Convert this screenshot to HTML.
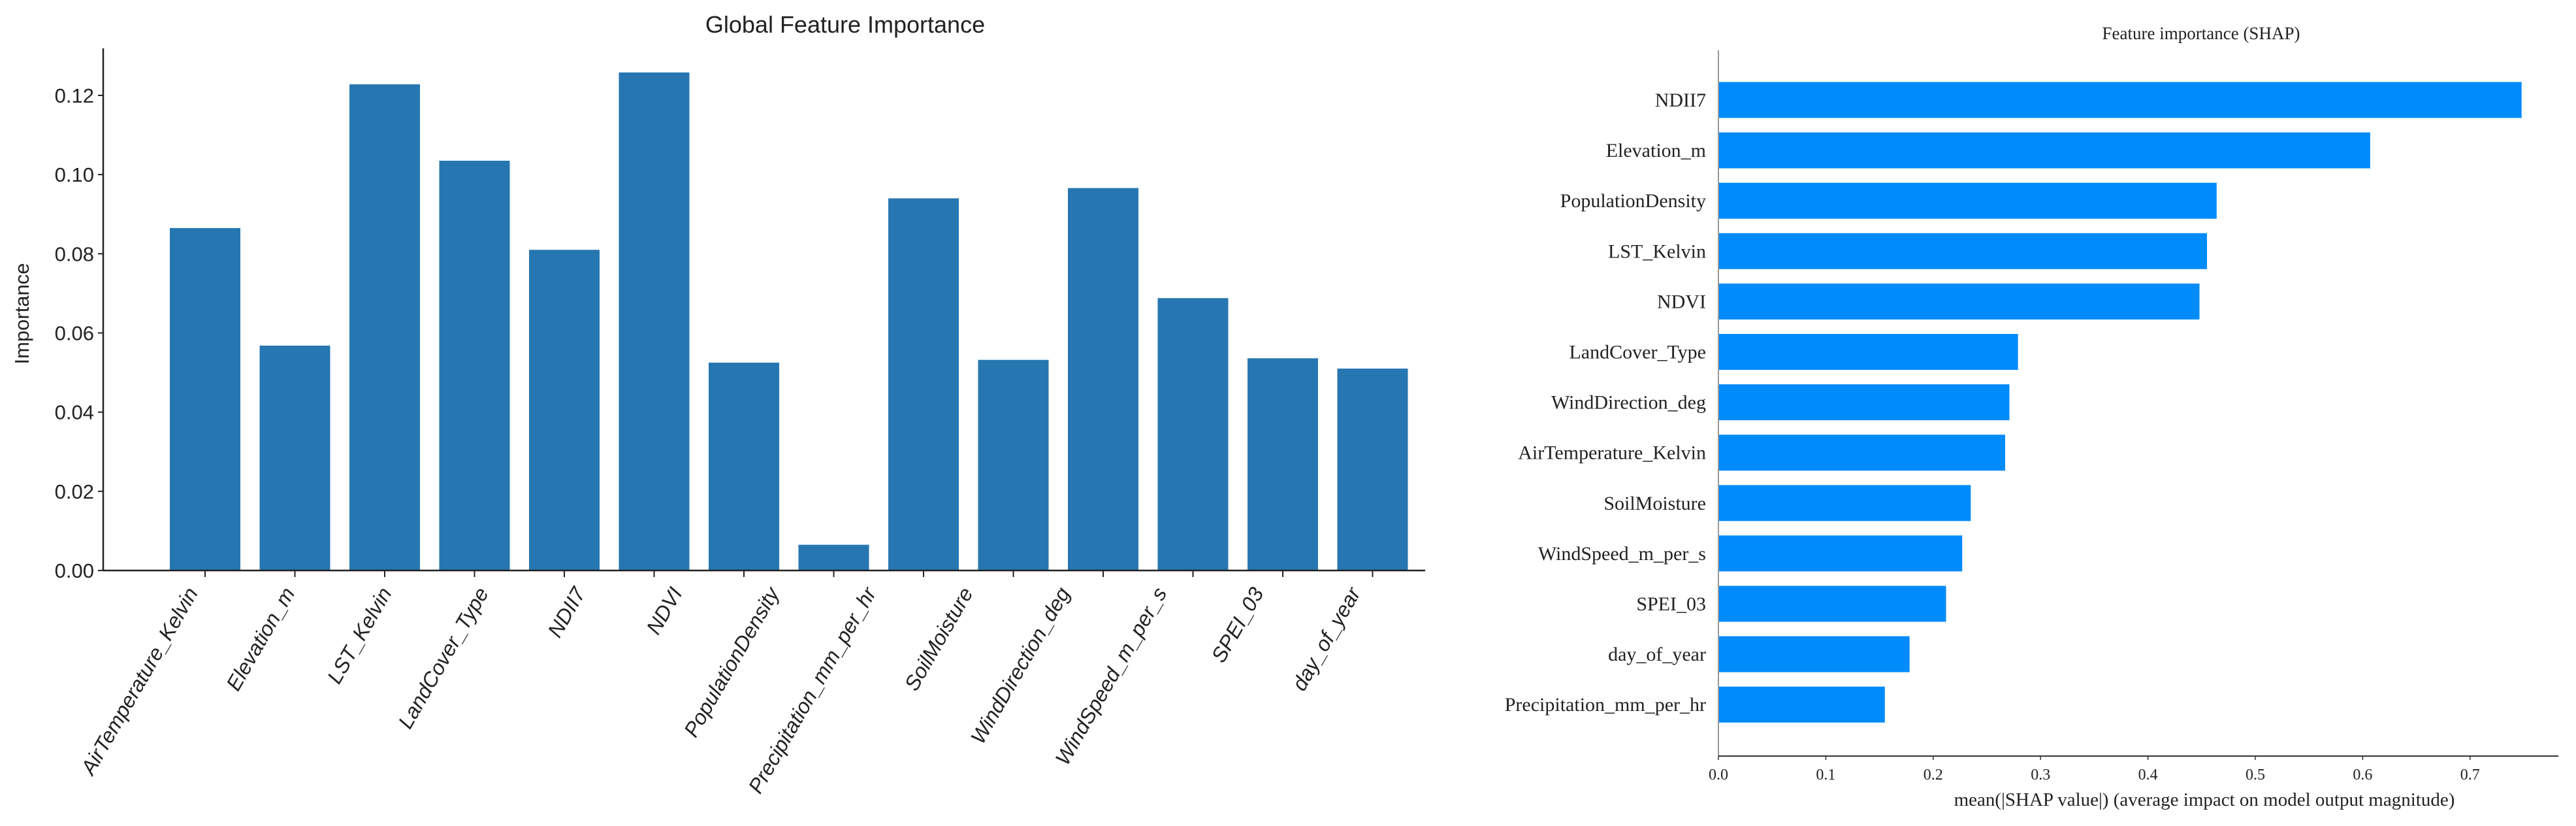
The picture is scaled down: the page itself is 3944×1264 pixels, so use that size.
<!DOCTYPE html>
<html><head><meta charset="utf-8"><style>
html,body{margin:0;padding:0;background:#fff;}
svg{display:block;}
</style></head><body>
<svg id="chart" width="3944" height="1264" xmlns="http://www.w3.org/2000/svg">
<g id="left"></g>
<g id="right"></g>
</svg>
<script>
const leftCategories = ["AirTemperature_Kelvin","Elevation_m","LST_Kelvin","LandCover_Type","NDII7","NDVI","PopulationDensity","Precipitation_mm_per_hr","SoilMoisture","WindDirection_deg","WindSpeed_m_per_s","SPEI_03","day_of_year"];
const leftValues = [0.0865,0.0568,0.1228,0.1035,0.081,0.1258,0.0525,0.0065,0.094,0.0532,0.0966,0.0688,0.0536,0.051];
const leftTicks = [0,0.02,0.04,0.06,0.08,0.10,0.12];
const leftTickLabels = ["0.00","0.02","0.04","0.06","0.08","0.10","0.12"];
const rightCategories = ["NDII7","Elevation_m","PopulationDensity","LST_Kelvin","NDVI","LandCover_Type","WindDirection_deg","AirTemperature_Kelvin","SoilMoisture","WindSpeed_m_per_s","SPEI_03","day_of_year","Precipitation_mm_per_hr"];
const rightValues = [0.748,0.607,0.464,0.455,0.448,0.279,0.271,0.267,0.235,0.227,0.212,0.178,0.155];
const rightTicks = [0,0.1,0.2,0.3,0.4,0.5,0.6,0.7];
const rightTickLabels = ["0.0","0.1","0.2","0.3","0.4","0.5","0.6","0.7"];

const NS="http://www.w3.org/2000/svg";
function mk(parent,tag,attrs,text){const e=document.createElementNS(NS,tag);for(const k in attrs)e.setAttribute(k,attrs[k]);if(text!==undefined)e.textContent=text;parent.appendChild(e);return e;}

// Left chart
const L=document.getElementById('left');
const lx0=158, lBase=873, lPer=(873-146)/0.12;
const ly=v=>lBase-v*lPer;
const lx=i=>314+i*137.5;
const labelX=i=>316+i*(2096-316)/(leftCategories.length-1);
const lBarW=108;
mk(L,'text',{x:1294,y:50,'font-family':'Liberation Sans, sans-serif','font-size':36,'text-anchor':'middle',fill:'#222',},'Global Feature Importance');
leftValues.forEach((v,i)=>{
  const r=mk(L,'rect',{x:lx(i)-lBarW/2,y:ly(v),width:lBarW,height:lBase-ly(v),fill:'#2677b1'});
  
  
  mk(L,'line',{x1:lx(i),x2:lx(i),y1:lBase,y2:lBase+10,stroke:'#222','stroke-width':2});
});
leftCategories.forEach((nm,i)=>{
  const t=mk(L,'text',{x:0,y:0,transform:`translate(${labelX(i)-12},${lBase+34}) rotate(-60)`,'font-family':'Liberation Sans, sans-serif','font-size':32,'font-style':'italic','text-anchor':'end',fill:'#222'},nm);
  
  
});
leftTicks.forEach((v,i)=>{
  mk(L,'line',{x1:lx0-8,x2:lx0,y1:ly(v),y2:ly(v),stroke:'#222','stroke-width':2});
  const t=mk(L,'text',{x:lx0-14,y:ly(v)+11,'font-family':'Liberation Sans, sans-serif','font-size':31,'text-anchor':'end',fill:'#222'},leftTickLabels[i]);
  
  
});
mk(L,'line',{x1:lx0,x2:lx0,y1:74,y2:lBase,stroke:'#222','stroke-width':2.5,});
mk(L,'line',{x1:lx0,x2:2182,y1:lBase,y2:lBase,stroke:'#222','stroke-width':2.5,});
mk(L,'text',{x:0,y:0,transform:'translate(44,480) rotate(-90)','font-family':'Liberation Sans, sans-serif','font-size':31,'text-anchor':'middle',fill:'#222',},'Importance');

// Right chart
const R=document.getElementById('right');
const rx0=2631, rPer=164.4, rAxisY=1157;
const rx=v=>rx0+v*rPer/0.1;
const ry=i=>153+i*77.1;
const rBarH=55;
mk(R,'text',{x:3370,y:60,'font-family':'Liberation Serif, serif','font-size':27,'text-anchor':'middle',fill:'#222',},'Feature importance (SHAP)');
rightValues.forEach((v,i)=>{
  const r=mk(R,'rect',{x:rx0,y:ry(i)-rBarH/2,width:rx(v)-rx0,height:rBarH,fill:'#008bfb'});
  
  
  const t=mk(R,'text',{x:2612,y:ry(i)+10,'font-family':'Liberation Serif, serif','font-size':30,'text-anchor':'end',fill:'#222'},rightCategories[i]);
  
  
});
rightTicks.forEach((v,i)=>{
  mk(R,'line',{x1:rx(v),x2:rx(v),y1:rAxisY,y2:rAxisY+6,stroke:'#333','stroke-width':1.5});
  const t=mk(R,'text',{x:rx(v),y:1193,'font-family':'Liberation Serif, serif','font-size':24,'text-anchor':'middle',fill:'#222'},rightTickLabels[i]);
  
  
});
mk(R,'line',{x1:rx0,x2:rx0,y1:77,y2:rAxisY,stroke:'#999','stroke-width':2,});
mk(R,'line',{x1:rx0,x2:3917,y1:rAxisY,y2:rAxisY,stroke:'#333','stroke-width':2,});
mk(R,'text',{x:3375,y:1233,'font-family':'Liberation Serif, serif','font-size':29,'text-anchor':'middle',fill:'#222',},'mean(|SHAP value|) (average impact on model output magnitude)');
</script>
</body></html>
